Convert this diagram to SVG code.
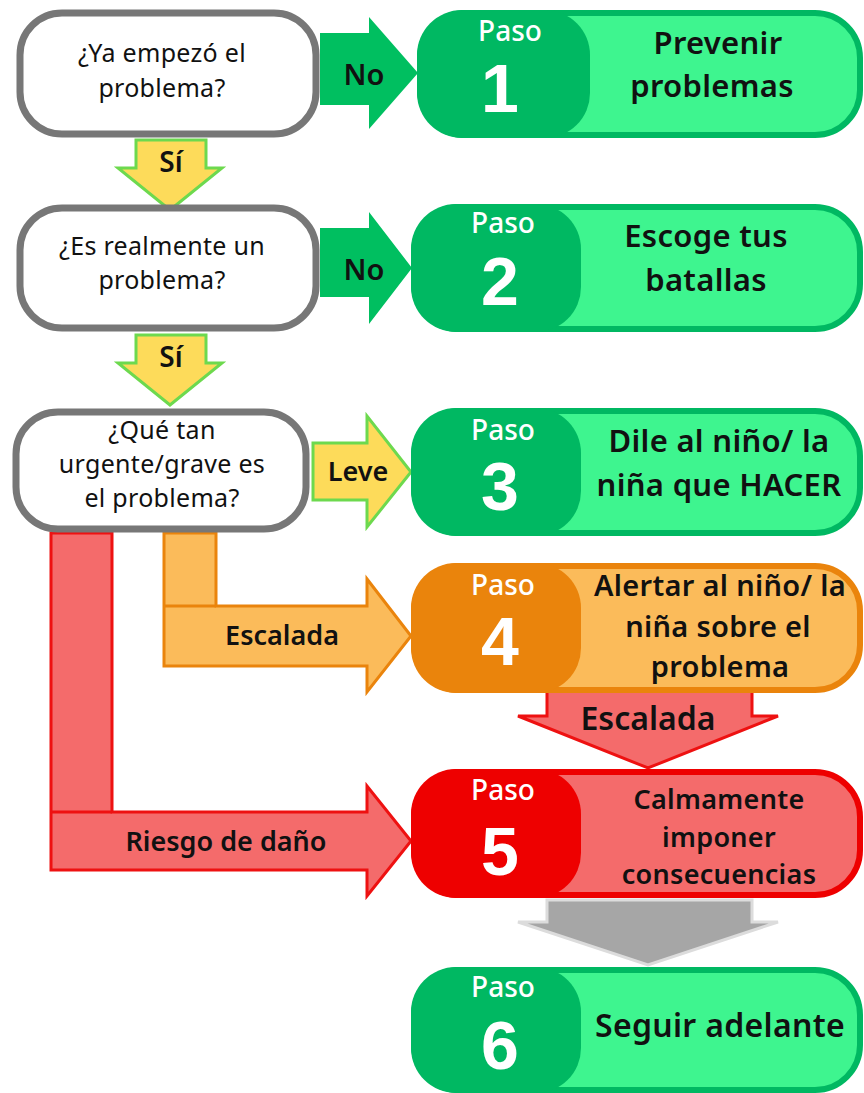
<svg xmlns="http://www.w3.org/2000/svg" width="864" height="1093" viewBox="0 0 864 1093">
<style>
.q{fill:#fff;stroke:#777;stroke-width:7}
.qt{font-family:"Noto Sans",sans-serif;font-size:25px;fill:#111;text-anchor:middle;letter-spacing:0.3px}
.st{font-family:"Noto Sans",sans-serif;font-weight:600;fill:#111;text-anchor:middle;letter-spacing:0.3px}
.paso{font-family:"Noto Sans",sans-serif;font-size:28px;font-weight:500;fill:#fff;text-anchor:middle}
.num{font-family:"Liberation Sans",sans-serif;font-size:68px;font-weight:700;fill:#fff;text-anchor:middle}
.lbl{font-family:"Noto Sans",sans-serif;font-weight:600;fill:#111;text-anchor:middle}
.g-out{fill:#3ef58f;stroke:#00b862;stroke-width:6}
.g-in{fill:#00b862}
.o-out{fill:#fbbb5a;stroke:#ea840c;stroke-width:6}
.o-in{fill:#ea840c}
.r-out{fill:#f46b6b;stroke:#ee0000;stroke-width:6}
.r-in{fill:#ee0000}
</style>
<g id="connectors">
  <polygon points="320,33 369,33 369,17 418,73 369,129 369,105 320,105" fill="#00bf60"/>
  <text class="lbl" x="364" y="85" font-size="29">No</text>
  <polygon points="320,228 369,228 369,212 412,268 369,324 369,297 320,297" fill="#00bf60"/>
  <text class="lbl" x="364" y="280" font-size="29">No</text>
  <polygon points="136,140 206,140 206,168 222,168 170,210 118,168 136,168" fill="#fddb5a" stroke="#6dd94e" stroke-width="3"/>
  <text class="lbl" x="171" y="172" font-size="28">Sí</text>
  <polygon points="136,335 206,335 206,363 222,363 170,405 118,363 136,363" fill="#fddb5a" stroke="#6dd94e" stroke-width="3"/>
  <text class="lbl" x="171" y="367" font-size="28">Sí</text>
  <polygon points="313,443 367,443 367,416 411,472 367,527 367,500 313,500" fill="#fddb5a" stroke="#6dd94e" stroke-width="3"/>
  <text class="lbl" x="358" y="481" font-size="27">Leve</text>
  <polygon points="164,533 216,533 216,606 367,606 367,579 411,636 367,692 367,666 164,666" fill="#fbbb5a" stroke="#ea840c" stroke-width="3"/>
  <line x1="164" y1="606" x2="216" y2="606" stroke="#ea840c" stroke-width="3"/>
  <text class="lbl" x="282" y="645" font-size="27">Escalada</text>
  <polygon points="51,533 112,533 112,812 367,812 367,786 411,841 367,896 367,870 51,870" fill="#f46b6b" stroke="#ee1111" stroke-width="3"/>
  <line x1="51" y1="812" x2="112" y2="812" stroke="#ee1111" stroke-width="3"/>
  <text class="lbl" x="226" y="851" font-size="27">Riesgo de daño</text>
  <polygon points="547,689 752,689 752,716 778,716 648,768 518,716 547,716" fill="#f46b6b" stroke="#ee1111" stroke-width="3"/>
  <text class="lbl" x="648" y="730" font-size="32">Escalada</text>
  <polygon points="547,900 752,900 752,922 778,922 648,965 518,922 547,922" fill="#a6a6a6" stroke="#dcdcdc" stroke-width="3"/>
</g>
<g id="q1">
  <rect class="q" x="20" y="13" width="296" height="121" rx="42"/>
  <text class="qt" x="162" y="62">¿Ya empezó el</text>
  <text class="qt" x="162" y="97">problema?</text>
</g>
<g id="q2">
  <rect class="q" x="20" y="208" width="296" height="120" rx="42"/>
  <text class="qt" x="162" y="255">¿Es realmente un</text>
  <text class="qt" x="162" y="289">problema?</text>
</g>
<g id="q3">
  <rect class="q" x="16" y="412" width="290" height="117" rx="42"/>
  <text class="qt" x="162" y="439">¿Qué tan</text>
  <text class="qt" x="162" y="473">urgente/grave es</text>
  <text class="qt" x="162" y="507">el problema?</text>
</g>
<g id="step1">
  <rect class="g-out" x="420" y="13" width="440" height="122" rx="45"/>
  <rect class="g-in" x="417" y="10" width="173" height="128" rx="45"/>
  <text class="paso" x="510" y="41">Paso</text>
  <text class="num" x="500" y="112">1</text>
  <text class="st" x="718" y="54" font-size="31">Prevenir</text>
  <text class="st" x="712" y="97" font-size="31">problemas</text>
</g>
<g id="step2">
  <rect class="g-out" x="414" y="207" width="446" height="122" rx="45"/>
  <rect class="g-in" x="411" y="204" width="170" height="128" rx="45"/>
  <text class="paso" x="503" y="233">Paso</text>
  <text class="num" x="500" y="305">2</text>
  <text class="st" x="706" y="247" font-size="31">Escoge tus</text>
  <text class="st" x="706" y="291" font-size="31">batallas</text>
</g>
<g id="step3">
  <rect class="g-out" x="414" y="411" width="446" height="122" rx="45"/>
  <rect class="g-in" x="411" y="408" width="170" height="128" rx="45"/>
  <text class="paso" x="503" y="440">Paso</text>
  <text class="num" x="500" y="510">3</text>
  <text class="st" x="719" y="452" font-size="31">Dile al niño/ la</text>
  <text class="st" x="719" y="496" font-size="31">niña que HACER</text>
</g>
<g id="step4">
  <rect class="o-out" x="414" y="566" width="446" height="124" rx="45"/>
  <rect class="o-in" x="411" y="563" width="170" height="130" rx="45"/>
  <text class="paso" x="503" y="595">Paso</text>
  <text class="num" x="500" y="665">4</text>
  <text class="st" x="720" y="596" font-size="29" letter-spacing="0.5">Alertar al niño/ la</text>
  <text class="st" x="718" y="637" font-size="29" letter-spacing="0.5">niña sobre el</text>
  <text class="st" x="720" y="677" font-size="29" letter-spacing="0.5">problema</text>
</g>
<g id="step5">
  <rect class="r-out" x="414" y="772" width="446" height="123" rx="45"/>
  <rect class="r-in" x="411" y="769" width="170" height="129" rx="45"/>
  <text class="paso" x="503" y="800">Paso</text>
  <text class="num" x="500" y="875">5</text>
  <text class="st" x="719" y="809" font-size="27">Calmamente</text>
  <text class="st" x="719" y="847" font-size="27">imponer</text>
  <text class="st" x="719" y="884" font-size="27">consecuencias</text>
</g>
<g id="step6">
  <rect class="g-out" x="414" y="970" width="446" height="120" rx="45"/>
  <rect class="g-in" x="411" y="967" width="170" height="126" rx="45"/>
  <text class="paso" x="503" y="997">Paso</text>
  <text class="num" x="500" y="1069">6</text>
  <text class="st" x="720" y="1037" font-size="32">Seguir adelante</text>
</g>
</svg>
